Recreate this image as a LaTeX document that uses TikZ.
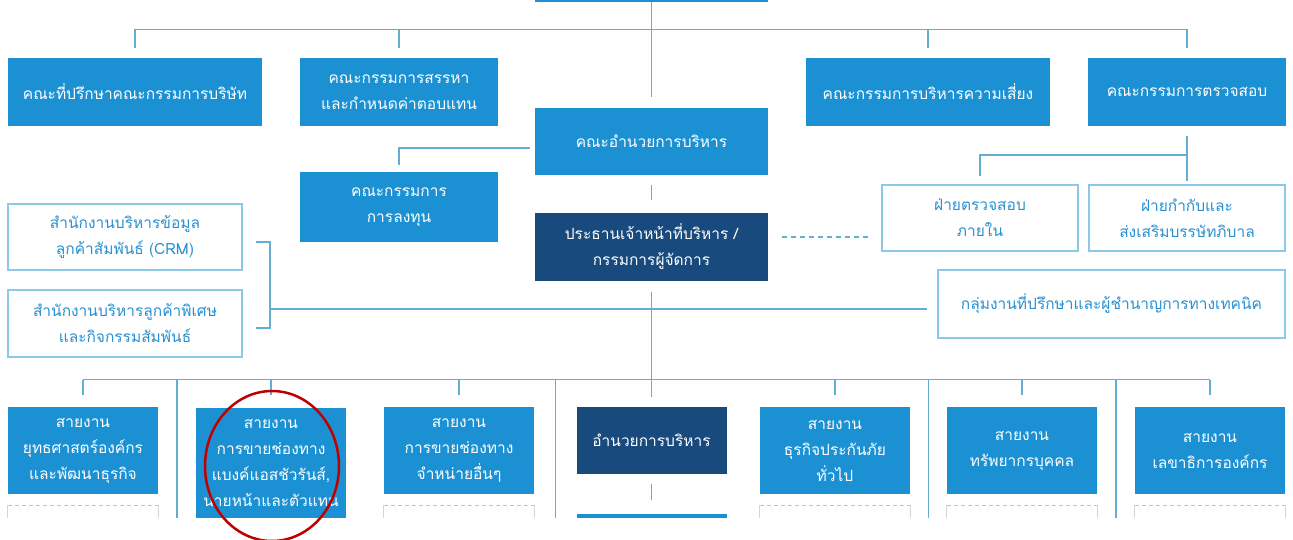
\documentclass[tikz,border=0pt]{standalone}
\usepackage{fontspec}
\setmainfont[Script=Thai]{Loma}
\usetikzlibrary{calc}
\definecolor{cblue}{RGB}{27,145,212}
\definecolor{cnavy}{RGB}{24,74,125}
\definecolor{cline}{RGB}{100,174,212}
\definecolor{cedge}{RGB}{140,200,232}
\definecolor{ctext}{RGB}{40,145,210}
\definecolor{cdash}{RGB}{240,175,175}
\definecolor{cgrey}{RGB}{205,215,225}
\definecolor{cred}{RGB}{192,0,0}
\begin{document}
\begin{tikzpicture}[x=1pt,y=-1pt,
  font=\fontsize{15.5}{26}\selectfont,
  bx/.style={fill=cblue,text=white,align=center,inner sep=0pt},
  nv/.style={fill=cnavy,text=white,align=center,inner sep=0pt},
  ob/.style={draw=cedge,line width=1.2pt,fill=white,text=ctext,align=center,inner sep=0pt},
  ln/.style={draw=cline,line width=1.3pt},
  sz/.style 2 args={minimum width=#1pt,minimum height=#2pt}]
\useasboundingbox (0,0) rectangle (1293,540);
\begin{scope}
\clip (0,0) rectangle (1293,517);
% top level
\node[bx,sz={233}{64}] (top) at (651.5,-30) {};
\node[bx,sz={254}{68}] (c1) at (135,92) {คณะที่ปรึกษาคณะกรรมการบริษัท};
\node[bx,sz={198}{68}] (c2) at (399,92) {คณะกรรมการสรรหา\\และกำหนดค่าตอบแทน};
\node[bx,sz={244}{68}] (c3) at (928,92) {คณะกรรมการบริหารความเสี่ยง};
\node[bx,sz={198}{68}] (c4) at (1187,92) {คณะกรรมการตรวจสอบ};
\node[bx,sz={233}{67}] (ex) at (651.5,141.5) {คณะอำนวยการบริหาร};
\node[bx,sz={198}{70}] (inv) at (399,207) {คณะกรรมการ\\การลงทุน};
\node[nv,sz={233}{68}] (ceo) at (651.5,247) {ประธานเจ้าหน้าที่บริหาร /\\กรรมการผู้จัดการ};
\node[ob,sz={196}{66}] (ia) at (980,218) {ฝ่ายตรวจสอบ\\ภายใน};
\node[ob,sz={196}{66}] (cg) at (1187,218) {ฝ่ายกำกับและ\\ส่งเสริมบรรษัทภิบาล};
\node[ob,sz={347}{68}] (tech) at (1111.5,304) {กลุ่มงานที่ปรึกษาและผู้ชำนาญการทางเทคนิค};
\node[ob,sz={234}{66}] (crm) at (125,237) {สำนักงานบริหารข้อมูล\\ลูกค้าสัมพันธ์ (CRM)};
\node[ob,sz={234}{67}] (spc) at (125,323.5) {สำนักงานบริหารลูกค้าพิเศษ\\และกิจกรรมสัมพันธ์};
% bottom row
\node[bx,sz={150}{87}] (b1) at (83,450.5) {สายงาน\\ยุทธศาสตร์องค์กร\\และพัฒนาธุรกิจ};
\node[bx,sz={150}{111}] (b2) at (271,463) {สายงาน\\การขายช่องทาง\\แบงค์แอสชัวรันส์,\\นายหน้าและตัวแทน};
\node[bx,sz={150}{87}] (b3) at (459,450.5) {สายงาน\\การขายช่องทาง\\จำหน่ายอื่นๆ};
\node[nv,sz={150}{67}] (b4) at (651.5,440.5) {อำนวยการบริหาร};
\node[bx,sz={150}{87}] (b5) at (835,450.5) {สายงาน\\ธุรกิจประกันภัย\\ทั่วไป};
\node[bx,sz={150}{87}] (b6) at (1022,450.5) {สายงาน\\ทรัพยากรบุคคล};
\node[bx,sz={150}{87}] (b7) at (1210,450.5) {สายงาน\\เลขาธิการองค์กร};
\node[bx,sz={150}{20}] (b8) at (651.5,524) {};
% partial boxes below
\foreach \n in {b1,b3,b5,b6,b7}{
  \draw[cdash,line width=0.8pt,dash pattern=on 4pt off 3pt] ([yshift=-11pt]\n.south west) -- ([yshift=-11pt]\n.south east);
  \draw[cgrey,line width=0.8pt] ([yshift=-11pt]\n.south west) -- ++(0,20);
  \draw[cgrey,line width=0.8pt] ([yshift=-11pt]\n.south east) -- ++(0,20);
}
% top connectors
\draw[ln] ([yshift=10pt]c1.north) -- ([yshift=28pt]c1.north) -- ([yshift=28pt]c4.north) -- ([yshift=10pt]c4.north);
\draw[ln] ([yshift=10pt]c2.north) -- ([yshift=28pt]c2.north);
\draw[ln] ([yshift=10pt]c3.north) -- ([yshift=28pt]c3.north);
\draw[ln] (top.south) -- ([yshift=11pt]ex.north);
\draw[ln] ([yshift=-10pt]ex.south) -- ([yshift=13pt]ceo.north);
\draw[ln] ([xshift=-5pt,yshift=-6.5pt]ex.west) -| ([yshift=7pt]inv.north);
\draw[ln,dash pattern=on 5pt off 4pt] ([xshift=14pt,yshift=10pt]ceo.east) -- ([xshift=-10pt,yshift=-19pt]ia.west);
\draw[ln] ([yshift=-10pt]c4.south) -- ([yshift=3pt]cg.north);
\coordinate (ab) at (1187,155);
\draw[ln] (ab) -| ([yshift=8pt]ia.north);
% middle
\coordinate (bk) at (270,309);
\draw[ln] (bk) -- ([xshift=-10pt,yshift=-5pt]tech.west);
\draw[ln] ([xshift=13pt,yshift=-5pt]crm.east) -| (bk) |- ([xshift=13pt,yshift=-4.5pt]spc.east);
% trunk to bottom
\draw[ln] ([yshift=-11pt]ceo.south) -- ([yshift=10pt]b4.north);
\draw[ln] ([yshift=27pt]b1.north) -- ([yshift=27pt]b7.north);
\foreach \n in {b1,b2,b3,b5,b6,b7}{
  \draw[ln] ([yshift=27pt]\n.north) -- ([yshift=12pt]\n.north);
}
\draw[ln] ([yshift=-10pt]b4.south) -- ([yshift=-26pt]b4.south);
\foreach \a/\b in {b1/b2,b3/b4,b5/b6,b6/b7}{
  \draw[ln] ($(\a.north east)!0.5!(\b.north west)$) ++(0,-27) -- ++(0,160);
}
\end{scope}
\draw[cred,line width=2.5pt] (272,466) ellipse [x radius=67pt, y radius=75pt];
\end{tikzpicture}
\end{document}
